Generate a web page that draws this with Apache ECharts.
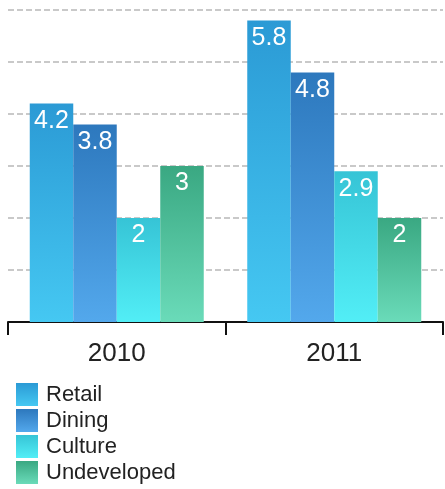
<!DOCTYPE html>
<html>
<head>
<meta charset="utf-8">
<script src="https://cdn.jsdelivr.net/npm/echarts@6/dist/echarts.min.js"></script>
<style>html,body{margin:0;padding:0;background:#fff;}#c{width:445px;height:489px;}</style>
</head>
<body>
<div id="c"></div>
<script>
var categories = ['2010', '2011'];
var seriesNames = ['Retail', 'Dining', 'Culture', 'Undeveloped'];
var retail = [4.2, 5.8];
var dining = [3.8, 4.8];
var culture = [2, 2.9];
var undeveloped = [3, 2];
var yTicks = [0, 1, 2, 3, 4, 5, 6];

var gradients = [
  ['#2b9ad5', '#45c8f2'],
  ['#2d78bd', '#53a8ec'],
  ['#36c4d6', '#52eef6'],
  ['#3aa882', '#6adbb9']
];
function grad(c) {
  return new echarts.graphic.LinearGradient(0, 0, 0, 1, [
    {offset: 0, color: c[0]}, {offset: 1, color: c[1]}
  ]);
}
var FONT = 'Liberation Sans, Arial, sans-serif';
var values = [retail, dining, culture, undeveloped];
var chart = echarts.init(document.getElementById('c'), null, {renderer: 'canvas'});
var series = seriesNames.map(function (name, i) {
  return {
    name: name,
    type: 'bar',
    data: values[i],
    barGap: '0%',
    barCategoryGap: '20%',
    itemStyle: {color: grad(gradients[i])},
    label: {
      show: true,
      position: 'insideTop',
      distance: 5,
      color: '#fff',
      fontSize: 25,
      fontFamily: FONT
    },
    emphasis: {disabled: true}
  };
});
chart.setOption({
  animation: false,
  backgroundColor: '#fff',
  legend: {
    orient: 'vertical',
    left: 16,
    top: 383,
    padding: 0,
    itemWidth: 22,
    itemHeight: 23,
    itemGap: 3,
    icon: 'rect',
    data: seriesNames,
    textStyle: {fontSize: 22, color: '#222', fontFamily: FONT, padding: [3, 0, 0, 3]}
  },
  grid: {left: 8, right: 2, top: 10, bottom: 167, containLabel: false},
  xAxis: {
    type: 'category',
    data: categories,
    axisLine: {show: true, lineStyle: {color: '#111', width: 2}},
    axisTick: {show: true, length: 13, lineStyle: {color: '#111', width: 2}},
    axisLabel: {fontSize: 26, color: '#222', margin: 19, fontFamily: FONT}
  },
  yAxis: {
    type: 'value',
    min: yTicks[0],
    max: yTicks[yTicks.length - 1],
    interval: 1,
    axisLine: {show: false},
    axisTick: {show: false},
    axisLabel: {show: false},
    splitLine: {lineStyle: {color: '#b8b8b8', width: 1.5, type: [6, 3]}}
  },
  series: series
});
</script>
</body>
</html>
